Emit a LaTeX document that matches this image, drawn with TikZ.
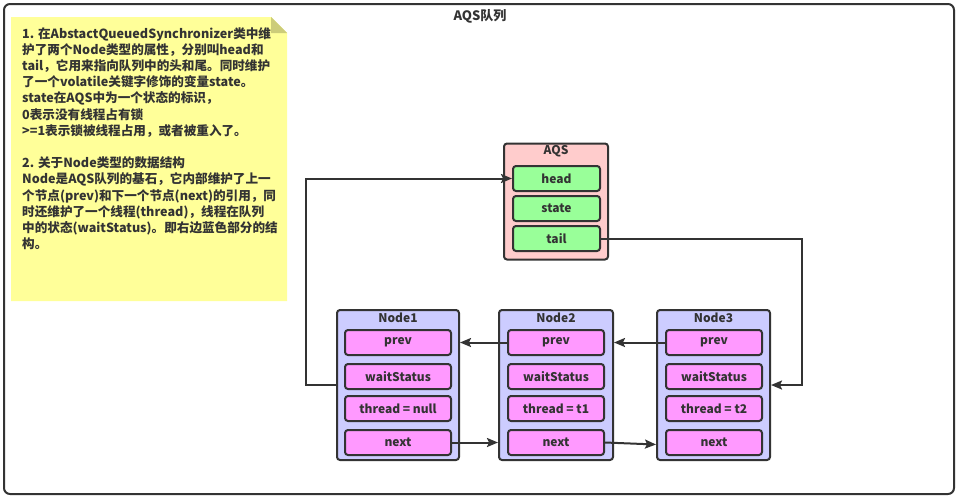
\documentclass[tikz,border=0pt]{standalone}
\usepackage{fontspec}
\setmainfont{Noto Sans CJK SC}
\usetikzlibrary{arrows.meta}
\definecolor{ink}{HTML}{333333}
\definecolor{notefill}{HTML}{FFFF99}
\definecolor{notefold}{HTML}{CCCC7A}
\definecolor{aqsfill}{HTML}{FFCCCC}
\definecolor{greenfill}{HTML}{99FF99}
\definecolor{nodefill}{HTML}{CCCCFF}
\definecolor{fieldfill}{HTML}{FF99FF}
\tikzset{
  box/.style={draw=ink, line width=2pt, rounded corners=3pt, inner sep=0pt},
  container/.style={box, minimum height=150pt},
  field/.style={box, minimum height=25pt, text=ink, font=\bfseries\fontsize{12}{14}\selectfont},
  afield/.style={field, fill=greenfill, minimum width=87pt},
  nfield/.style={field, fill=fieldfill},
  title/.style={text=ink, font=\bfseries\fontsize{12}{14}\selectfont, inner sep=0pt},
  arr/.style={draw=ink, line width=2pt, -{Stealth[length=11pt,width=9pt,inset=2pt]}}
}
\begin{document}
\begin{tikzpicture}[x=1pt,y=-1pt]
\useasboundingbox (0,0) rectangle (960,498);
% outer frame
\draw[draw=ink, line width=2pt, rounded corners=6pt] (4,4) rectangle (954,494);
\node[title, font=\bfseries\fontsize{13}{15}\selectfont] (maintitle) at (480,16) {AQS队列};
% note
\fill[notefill] (11,17) -- (271,17) -- (287,33) -- (287,301) -- (11,301) -- cycle;
\fill[notefold] (271,17) -- (287,33) -- (271,33) -- cycle;
\node[anchor=north west, inner sep=0pt, align=left, text=ink,
      font=\bfseries\fontsize{12.6}{16.2}\selectfont] (notetext) at (22,27) {%
1. 在AbstactQueuedSynchronizer类中维\\
护了两个Node类型的属性，分别叫head和\\
tail，它用来指向队列中的头和尾。同时维护\\
了一个volatile关键字修饰的变量state。\\
state在AQS中为一个状态的标识，\\
0表示没有线程占有锁\\
>=1表示锁被线程占用，或者被重入了。\\
\mbox{}\\
2. 关于Node类型的数据结构\\
Node是AQS队列的基石，它内部维护了上一\\
个节点(prev)和下一个节点(next)的引用，同\\
时还维护了一个线程(thread)，线程在队列\\
中的状态(waitStatus)。即右边蓝色部分的结\\
构。};
% AQS
\node[box, fill=aqsfill, minimum width=104pt, minimum height=116pt] (aqs) at (556,201.5) {};
\node[title] (aqstitle) at (556,151.5) {AQS};
\node[afield] (head) at (556.5,178.5) {head};
\node[afield] (state) at (556.5,208.5) {state};
\node[afield] (tail) at (556.5,238.5) {tail};
% Node1
\node[container, fill=nodefill, minimum width=122pt] (n1) at (398,385) {};
\node[title] (n1title) at (398,318) {Node1};
\node[nfield, minimum width=106pt] (n1prev) at (398,342.5) {prev};
\node[nfield, minimum width=106pt] (n1wait) at (398,376.5) {waitStatus};
\node[nfield, minimum width=106pt] (n1thread) at (398,408.5) {thread = null};
\node[nfield, minimum width=106pt] (n1next) at (398,442.5) {next};
% Node2
\node[container, fill=nodefill, minimum width=114pt] (n2) at (556,385) {};
\node[title] (n2title) at (556,318) {Node2};
\node[nfield, minimum width=96pt] (n2prev) at (556,342.5) {prev};
\node[nfield, minimum width=96pt] (n2wait) at (556,376.5) {waitStatus};
\node[nfield, minimum width=96pt] (n2thread) at (556,408.5) {thread = t1};
\node[nfield, minimum width=96pt] (n2next) at (556,442.5) {next};
% Node3
\node[container, fill=nodefill, minimum width=113pt] (n3) at (713.5,385) {};
\node[title] (n3title) at (713.5,318) {Node3};
\node[nfield, minimum width=96pt] (n3prev) at (714,342.5) {prev};
\node[nfield, minimum width=96pt] (n3wait) at (714,376.5) {waitStatus};
\node[nfield, minimum width=96pt] (n3thread) at (714,408.5) {thread = t2};
\node[nfield, minimum width=96pt] (n3next) at (714,442.5) {next};
% connectors
\draw[arr] (n1.west) -- ++(-30,0) |- (head.west);
\draw[arr] (tail.east) -- ++(201,0) |- (n3.east);
\draw[arr] (n2prev.west) -- (n1.east |- n2prev.west);
\draw[arr] (n3prev.west) -- (n2.east |- n3prev.west);
\draw[arr] (n1next.east) -- (n2.west |- n1next.east);
\draw[arr] (n2next.east) -- ([yshift=-2pt]n3.west |- n2next.east);
\end{tikzpicture}
\end{document}
